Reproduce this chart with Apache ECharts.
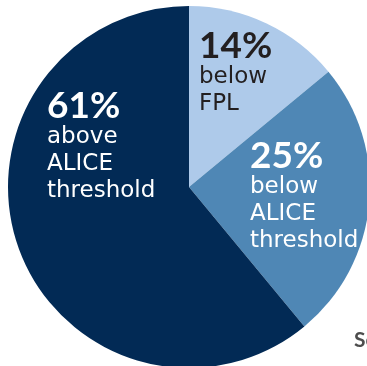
<!DOCTYPE html>
<html>
<head>
<meta charset="utf-8">
<script src="https://cdn.jsdelivr.net/npm/echarts@6/dist/echarts.min.js"></script>
<style>
  html, body { margin: 0; padding: 0; background: #fff; }
  #chart { width: 367px; height: 366px; }
</style>
</head>
<body>
<div id="chart"></div>
<script>
// shares of the population, clockwise from 12 o'clock
const shares = [14, 25, 61];
const pctLabels = ['14%', '25%', '61%'];
const descLabels = [
  ['below', 'FPL'],
  ['below', 'ALICE', 'threshold'],
  ['above', 'ALICE', 'threshold']
];
const sliceColors = ['#aecaea', '#4f87b5', '#022a55'];
const textColors = ['#231f20', '#ffffff', '#ffffff'];

// where each label's top-left corner sits
const labelSpots = [[199, 28], [250, 138], [47, 88]];

const chart = echarts.init(document.getElementById('chart'));

const data = shares.map((v, i) => ({
  value: v,
  name: pctLabels[i],
  itemStyle: { color: sliceColors[i] },
  label: {
    color: textColors[i],
    formatter: '{pct|' + pctLabels[i] + '}\n' + descLabels[i].map(t => '{txt|' + t + '}').join('\n')
  }
}));

chart.setOption({
  animation: false,
  series: [{
    type: 'pie',
    center: [189, 187],
    radius: 181,
    startAngle: 90,
    clockwise: true,
    silent: true,
    data: data,
    label: {
      show: true,
      position: 'inside',
      align: 'left',
      verticalAlign: 'top',
      rich: {
        pct: { fontFamily: 'Lato', fontWeight: 'bold', fontSize: 37, lineHeight: 36 },
        txt: { fontFamily: 'DejaVu Sans', fontSize: 23, lineHeight: 27 }
      }
    },
    labelLine: { show: false },
    labelLayout: function (p) {
      const s = labelSpots[p.dataIndex];
      return { x: s[0], y: s[1], align: 'left', verticalAlign: 'top' };
    }
  }],
  graphic: [{
    type: 'text',
    left: 354,
    top: 330,
    style: { text: 'Source', fill: '#4d4d4d', font: 'bold 21px Lato' }
  }]
});
</script>
</body>
</html>
